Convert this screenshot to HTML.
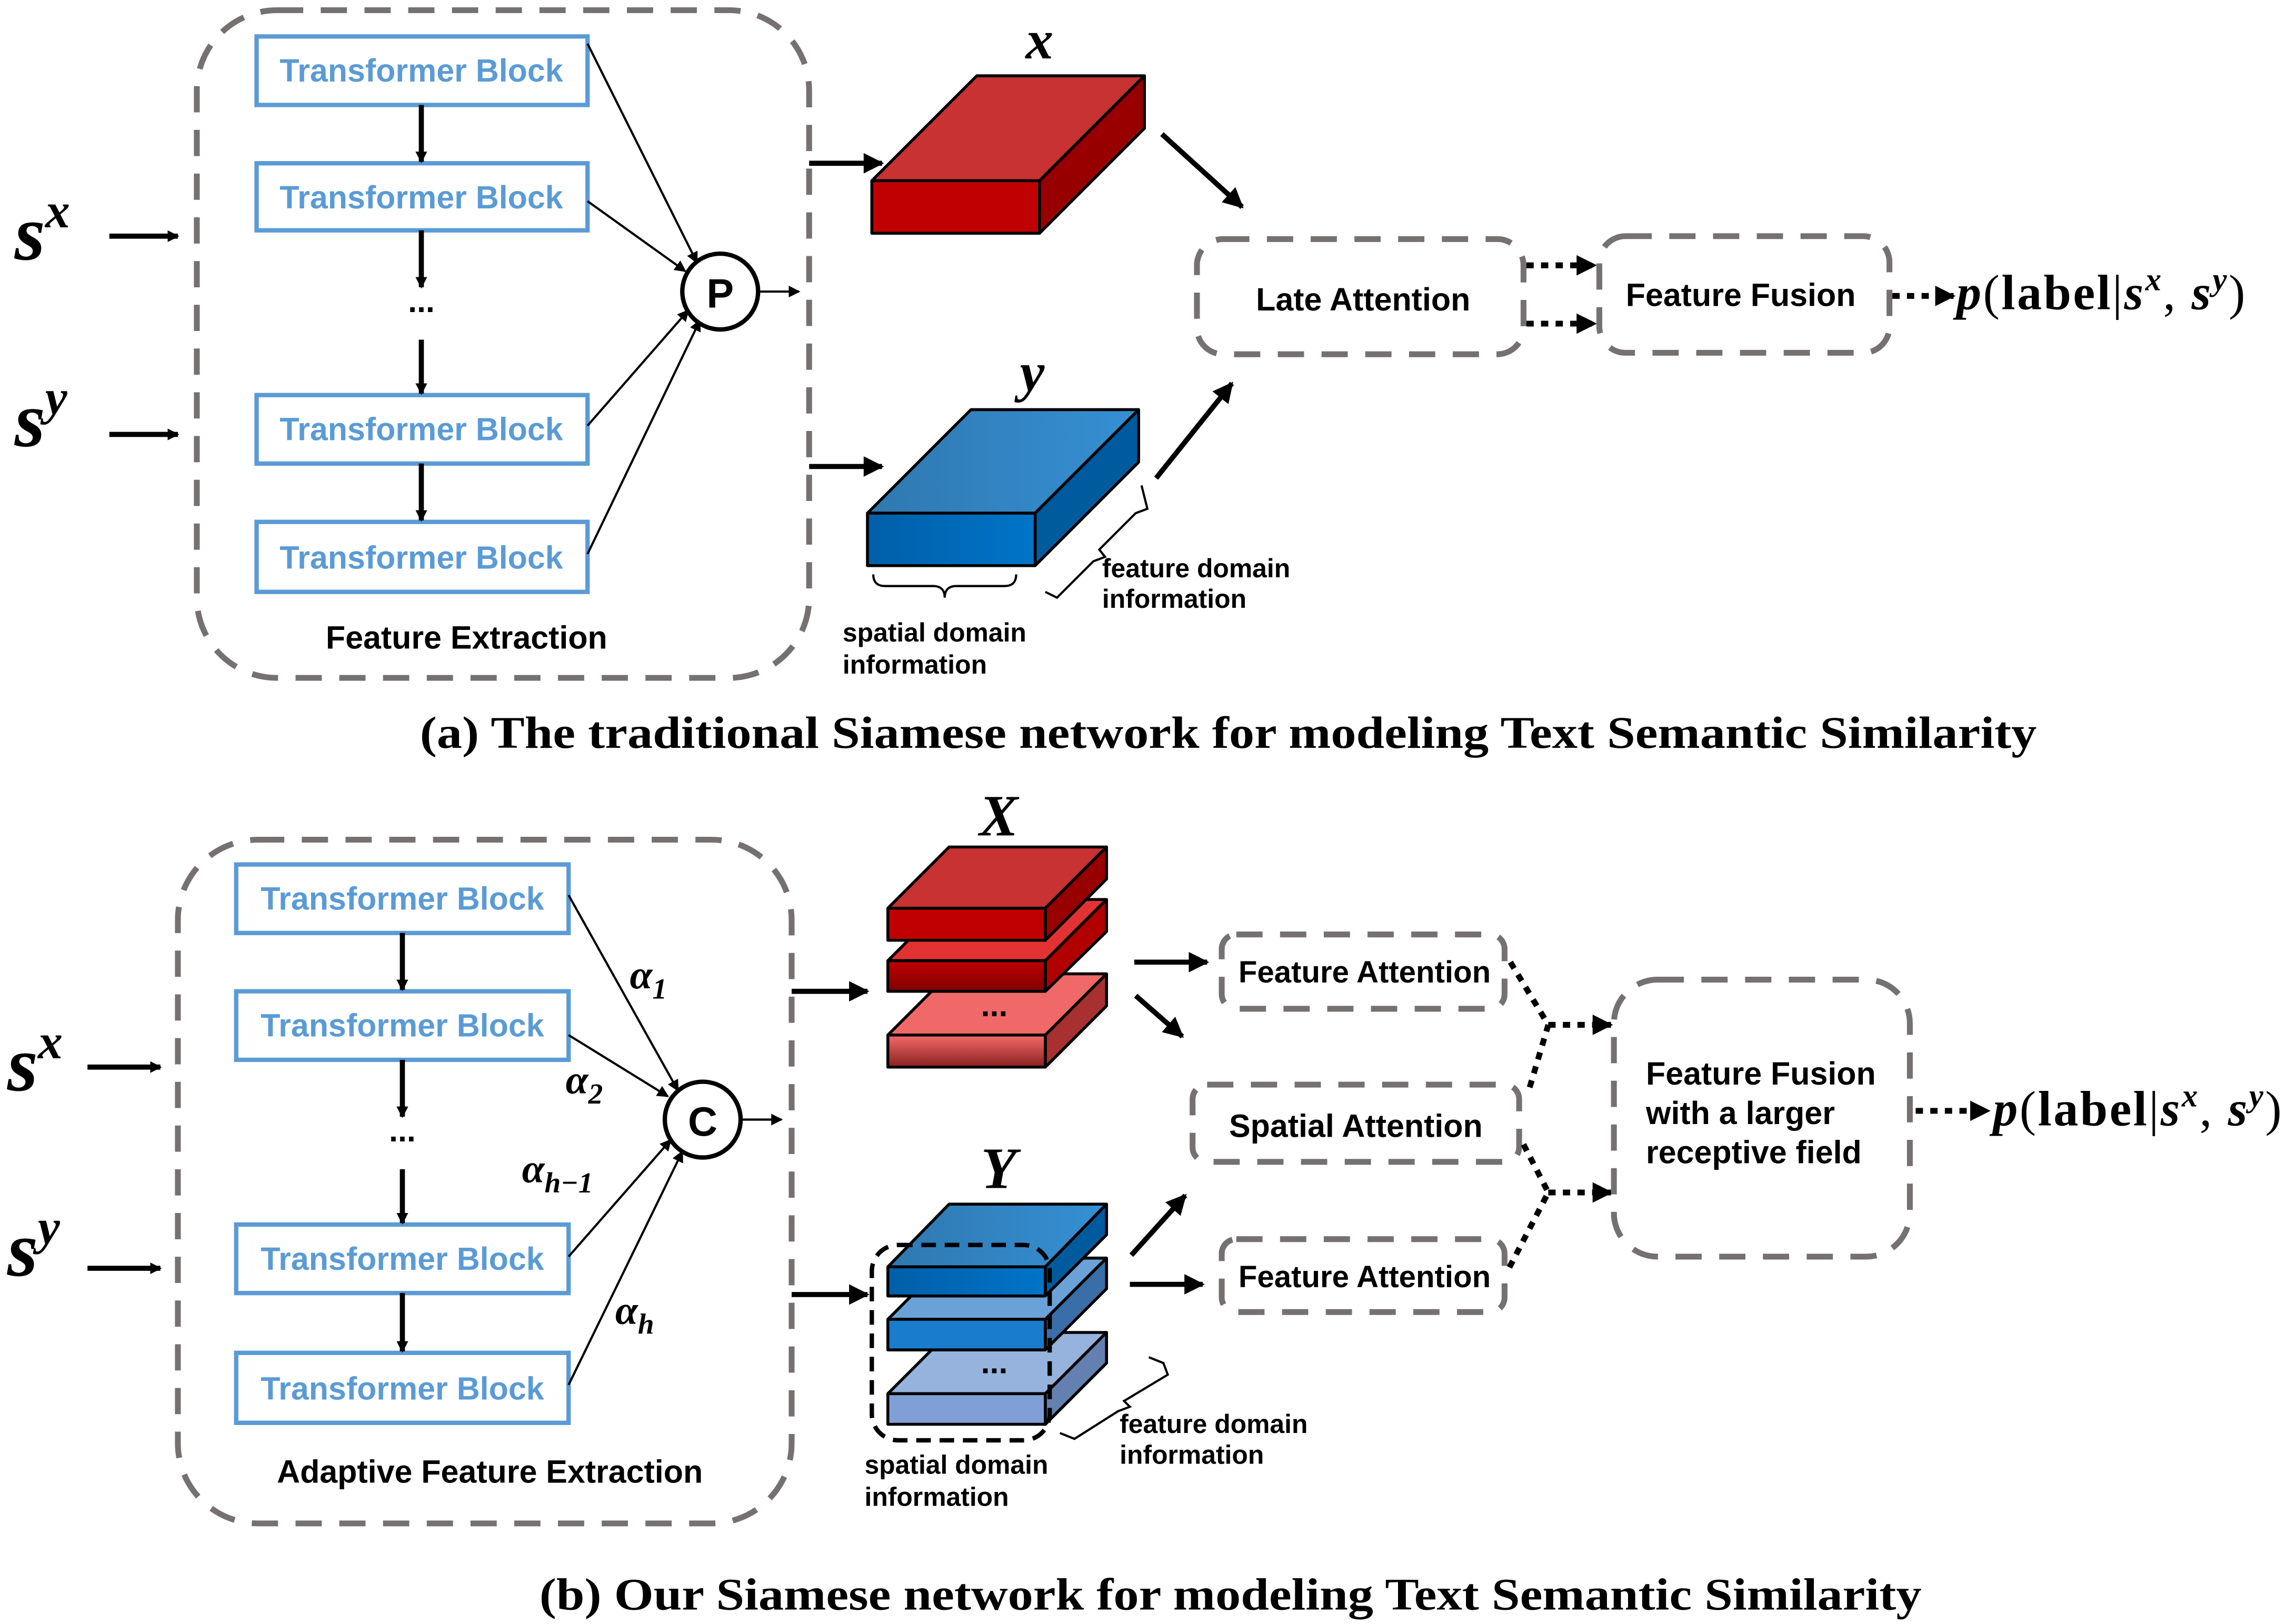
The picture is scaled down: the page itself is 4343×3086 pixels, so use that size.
<!DOCTYPE html>
<html><head><meta charset="utf-8"><style>html,body{margin:0;padding:0;background:#fff}svg{display:block}</style></head><body>
<svg xmlns="http://www.w3.org/2000/svg" width="4343" height="3086" viewBox="0 0 1568 1114" preserveAspectRatio="none">
<defs>
<marker id="ah" markerWidth="8" markerHeight="8" refX="7" refY="4" orient="auto" markerUnits="userSpaceOnUse" viewBox="0 0 8 8"><path d="M0,0 L8,4 L0,8z" fill="#000"/></marker>
<marker id="a2" viewBox="0 0 10 10" refX="9" refY="5" markerWidth="16" markerHeight="14" orient="auto" markerUnits="userSpaceOnUse"><path d="M0,0 L10,5 L0,10z" fill="#000"/></marker>
<linearGradient id="gb" x1="0" y1="0" x2="1" y2="0"><stop offset="0" stop-color="#005fa8"/><stop offset="1" stop-color="#0074c8"/></linearGradient>
<linearGradient id="gbt" x1="0" y1="0" x2="1" y2="0"><stop offset="0" stop-color="#2f78b0"/><stop offset="1" stop-color="#3590d4"/></linearGradient>
<linearGradient id="r3" x1="0" y1="0" x2="0" y2="1"><stop offset="0" stop-color="#f46a6a"/><stop offset="1" stop-color="#8a2020"/></linearGradient>
<linearGradient id="r2" x1="0" y1="0" x2="0" y2="1"><stop offset="0" stop-color="#c00000"/><stop offset="1" stop-color="#800000"/></linearGradient>
</defs>
<style>
.tb{fill:#fff;stroke:#5b9bd5;stroke-width:3}
.tbt{font:bold 22px "Liberation Sans",sans-serif;fill:#5b9bd5;text-anchor:middle}
.dash{fill:none;stroke:#767171;stroke-width:4;stroke-dasharray:18 12}
.lbl{font:bold 22px "Liberation Sans",sans-serif;fill:#000;text-anchor:middle}
.lbs{font:bold 22px "Liberation Sans",sans-serif;fill:#000;text-anchor:start}
.sm{font:bold 18px "Liberation Sans",sans-serif;fill:#000}
.ln{stroke:#000;stroke-width:1.5;fill:none}
.ar{stroke:#000;stroke-width:3.5;fill:none}
.dot{stroke:#000;stroke-width:4;stroke-dasharray:5 5;fill:none}
.big{font:bold italic 54px "Liberation Serif",serif;fill:#000}
.al{font:bold italic 28px "Liberation Serif",serif;fill:#000}
.cap{font:bold 31px "Liberation Serif",serif;fill:#000}
.p{font:34px "Liberation Serif",serif;fill:#000}
.k{stroke:#000;stroke-width:2;stroke-linejoin:round}
</style>

<rect x="135" y="7" width="420" height="458" rx="55" class="dash"/>
<rect x="176" y="25" width="227" height="47" class="tb"/><text x="289" y="56" class="tbt">Transformer Block</text>
<rect x="176" y="112" width="227" height="46" class="tb"/><text x="289" y="143" class="tbt">Transformer Block</text>
<rect x="176" y="271" width="227" height="47" class="tb"/><text x="289" y="302" class="tbt">Transformer Block</text>
<rect x="176" y="358" width="227" height="48" class="tb"/><text x="289" y="390" class="tbt">Transformer Block</text>
<line x1="289" y1="72" x2="289" y2="111" class="ar" stroke-width="3" marker-end="url(#ah)"/>
<line x1="289" y1="158" x2="289" y2="197" class="ar" stroke-width="3" marker-end="url(#ah)"/>
<text x="289" y="214" class="lbl">...</text>
<line x1="289" y1="233" x2="289" y2="270" class="ar" stroke-width="3" marker-end="url(#ah)"/>
<line x1="289" y1="318" x2="289" y2="357" class="ar" stroke-width="3" marker-end="url(#ah)"/>
<line x1="403" y1="30" x2="478" y2="180" class="ln" marker-end="url(#ah)"/>
<line x1="403" y1="138" x2="470" y2="186" class="ln" marker-end="url(#ah)"/>
<line x1="403" y1="292" x2="472" y2="213" class="ln" marker-end="url(#ah)"/>
<line x1="403" y1="380" x2="480" y2="220" class="ln" marker-end="url(#ah)"/>
<circle cx="494" cy="200" r="26" fill="#fff" stroke="#000" stroke-width="3"/>
<text x="494" y="211" class="lbl" style="font-size:28px">P</text>
<line x1="520" y1="200" x2="548" y2="200" class="ln" stroke-width="2" marker-end="url(#ah)"/>
<text x="10" y="178" class="big">s<tspan style="font-size:34px" dy="-22">x</tspan></text>
<line x1="75" y1="162" x2="122" y2="162" class="ar" marker-end="url(#ah)"/>
<text x="10" y="306" class="big">s<tspan style="font-size:34px" dy="-22">y</tspan></text>
<line x1="75" y1="298" x2="122" y2="298" class="ar" marker-end="url(#ah)"/>
<text x="320" y="445" class="lbl">Feature Extraction</text>
<line x1="555" y1="112" x2="605" y2="112" class="ar" marker-end="url(#a2)"/>
<line x1="555" y1="320" x2="605" y2="320" class="ar" marker-end="url(#a2)"/>
<polygon points="598,124 713,124 785,52 670,52" fill="#c83232" class="k"/>
<polygon points="713,124 785,52 785,88 713,160" fill="#980000" class="k"/>
<rect x="598" y="124" width="115" height="36" fill="#c00000" class="k"/>
<text x="713" y="40" class="big" style="font-size:38px" text-anchor="middle">x</text>
<line x1="797" y1="92" x2="852" y2="142" class="ar" marker-end="url(#a2)"/>
<polygon points="595,352 710,352 781,281 666,281" fill="url(#gbt)" class="k"/>
<polygon points="710,352 781,281 781,317 710,388" fill="#005a9e" class="k"/>
<rect x="595" y="352" width="115" height="36" fill="url(#gb)" class="k"/>
<text x="708" y="268" class="big" style="font-size:38px" text-anchor="middle">y</text>
<line x1="793" y1="328" x2="845" y2="263" class="ar" marker-end="url(#a2)"/>
<path d="M599,394 q0,8 8,8 L640,402 q8,0 8,8 q0,-8 8,-8 L689,402 q8,0 8,-8" class="ln"/>
<text x="578" y="440" class="sm">spatial domain</text>
<text x="578" y="462" class="sm">information</text>
<path d="M717,406 l8,4 l25,-25 l8,-3 l-4,-5 l25,-25 l8,-3 l-4,-16" class="ln"/>
<text x="756" y="396" class="sm">feature domain</text>
<text x="756" y="417" class="sm">information</text>
<rect x="821" y="164" width="224" height="79" rx="18" class="dash"/>
<text x="935" y="213" class="lbl">Late Attention</text>
<line x1="1047" y1="182" x2="1094" y2="182" class="dot" marker-end="url(#a2)"/>
<line x1="1047" y1="222" x2="1094" y2="222" class="dot" marker-end="url(#a2)"/>
<rect x="1097" y="162" width="199" height="80" rx="18" class="dash"/>
<text x="1194" y="210" class="lbl">Feature Fusion</text>
<line x1="1298" y1="203" x2="1340" y2="203" class="dot" marker-end="url(#a2)"/>
<text x="1342" y="212" class="p" textLength="198"><tspan font-style="italic" font-weight="bold">p</tspan>(<tspan font-weight="bold">label</tspan>|<tspan font-style="italic" font-weight="bold">s</tspan><tspan font-style="italic" font-weight="bold" font-size="22" dy="-13">x</tspan><tspan dy="13">, </tspan><tspan font-style="italic" font-weight="bold">s</tspan><tspan font-style="italic" font-weight="bold" font-size="22" dy="-13">y</tspan><tspan dy="13">)</tspan></text>
<text x="288" y="513" class="cap" textLength="1109" lengthAdjust="spacingAndGlyphs">(a) The traditional Siamese network for modeling Text Semantic Similarity</text>

<rect x="122" y="576" width="421" height="469" rx="55" class="dash"/>
<rect x="162" y="593" width="228" height="47" class="tb"/><text x="276" y="624" class="tbt">Transformer Block</text>
<rect x="162" y="680" width="228" height="47" class="tb"/><text x="276" y="711" class="tbt">Transformer Block</text>
<rect x="162" y="840" width="228" height="47" class="tb"/><text x="276" y="871" class="tbt">Transformer Block</text>
<rect x="162" y="928" width="228" height="48" class="tb"/><text x="276" y="960" class="tbt">Transformer Block</text>
<line x1="276" y1="640" x2="276" y2="679" class="ar" stroke-width="3" marker-end="url(#ah)"/>
<line x1="276" y1="727" x2="276" y2="766" class="ar" stroke-width="3" marker-end="url(#ah)"/>
<text x="276" y="783" class="lbl">...</text>
<line x1="276" y1="802" x2="276" y2="839" class="ar" stroke-width="3" marker-end="url(#ah)"/>
<line x1="276" y1="887" x2="276" y2="927" class="ar" stroke-width="3" marker-end="url(#ah)"/>
<line x1="390" y1="614" x2="465" y2="748" class="ln" marker-end="url(#ah)"/>
<line x1="390" y1="710" x2="458" y2="752" class="ln" marker-end="url(#ah)"/>
<line x1="390" y1="862" x2="460" y2="782" class="ln" marker-end="url(#ah)"/>
<line x1="390" y1="950" x2="468" y2="790" class="ln" marker-end="url(#ah)"/>
<circle cx="482" cy="768" r="26" fill="#fff" stroke="#000" stroke-width="3"/>
<text x="482" y="779" class="lbl" style="font-size:28px">C</text>
<line x1="508" y1="768" x2="536" y2="768" class="ln" stroke-width="2" marker-end="url(#ah)"/>
<text x="432" y="678" class="al">α<tspan style="font-size:20px" dy="7">1</tspan></text>
<text x="388" y="750" class="al">α<tspan style="font-size:20px" dy="7">2</tspan></text>
<text x="358" y="811" class="al">α<tspan style="font-size:20px" dy="7">h−1</tspan></text>
<text x="422" y="908" class="al">α<tspan style="font-size:20px" dy="7">h</tspan></text>
<text x="5" y="748" class="big">s<tspan style="font-size:34px" dy="-22">x</tspan></text>
<line x1="60" y1="732" x2="110" y2="732" class="ar" marker-end="url(#ah)"/>
<text x="5" y="875" class="big">s<tspan style="font-size:34px" dy="-22">y</tspan></text>
<line x1="60" y1="870" x2="110" y2="870" class="ar" marker-end="url(#ah)"/>
<text x="336" y="1017" class="lbl">Adaptive Feature Extraction</text>
<line x1="543" y1="680" x2="595" y2="680" class="ar" marker-end="url(#a2)"/>
<line x1="543" y1="888" x2="595" y2="888" class="ar" marker-end="url(#a2)"/>
<polygon points="609,710 717,710 759,668 651,668" fill="#f06868" class="k"/>
<polygon points="717,710 759,668 759,690 717,732" fill="#a83030" class="k"/>
<rect x="609" y="710" width="108" height="22" fill="url(#r3)" class="k"/>
<text x="682" y="697" class="lbl">...</text>
<polygon points="609,659 717,659 759,617 651,617" fill="#e33232" class="k"/>
<polygon points="717,659 759,617 759,639 717,680" fill="#b00000" class="k"/>
<rect x="609" y="659" width="108" height="21" fill="url(#r2)" class="k"/>
<polygon points="609,623 717,623 759,581 651,581" fill="#c83232" class="k"/>
<polygon points="717,623 759,581 759,603 717,645" fill="#980000" class="k"/>
<rect x="609" y="623" width="108" height="22" fill="#c00000" class="k"/>
<text x="685" y="573" class="big" style="font-size:40px" text-anchor="middle">X</text>
<polygon points="609,956 717,956 759,914 651,914" fill="#95b3dc" class="k"/>
<polygon points="717,956 759,914 759,935 717,977" fill="#6480b0" class="k"/>
<rect x="609" y="956" width="108" height="21" fill="#7f9fd6" class="k"/>
<text x="682" y="942" class="lbl">...</text>
<polygon points="609,905 717,905 759,863 651,863" fill="#6aa2d8" class="k"/>
<polygon points="717,905 759,863 759,884 717,926" fill="#3a6ea8" class="k"/>
<rect x="609" y="905" width="108" height="21" fill="#1a7ccc" class="k"/>
<polygon points="609,869 717,869 759,826 651,826" fill="url(#gbt)" class="k" stroke-width="3"/>
<polygon points="717,869 759,826 759,847 717,889" fill="#005a9e" class="k" stroke-width="3"/>
<rect x="609" y="869" width="108" height="20" fill="url(#gb)" class="k" stroke-width="3"/>
<text x="685" y="815" class="big" style="font-size:40px" text-anchor="middle">Y</text>
<rect x="598" y="854" width="122" height="134" rx="18" fill="none" stroke="#000" stroke-width="3" stroke-dasharray="10 6"/>
<path d="M727,983 l10,4 l30,-19 l8,-3 l-4,-4 l30,-18 l-3,-8 l-10,-4" class="ln"/>
<text x="593" y="1011" class="sm">spatial domain</text>
<text x="593" y="1033" class="sm">information</text>
<text x="768" y="983" class="sm">feature domain</text>
<text x="768" y="1004" class="sm">information</text>
<line x1="778" y1="660" x2="828" y2="660" class="ar" marker-end="url(#a2)"/>
<line x1="779" y1="683" x2="811" y2="711" class="ar" marker-end="url(#a2)"/>
<line x1="776" y1="861" x2="813" y2="820" class="ar" marker-end="url(#a2)"/>
<line x1="775" y1="881" x2="825" y2="881" class="ar" marker-end="url(#a2)"/>
<rect x="838" y="641" width="194" height="51" rx="10" class="dash"/>
<text x="936" y="674" class="lbl" style="font-size:21px">Feature Attention</text>
<rect x="818" y="744" width="224" height="53" rx="10" class="dash"/>
<text x="930" y="780" class="lbl">Spatial Attention</text>
<rect x="838" y="850" width="194" height="50" rx="10" class="dash"/>
<text x="936" y="883" class="lbl" style="font-size:21px">Feature Attention</text>
<polyline points="1036,660 1062,703 1048,750" class="dot"/>
<line x1="1062" y1="703" x2="1105" y2="703" class="dot" marker-end="url(#a2)"/>
<polyline points="1045,785 1062,818 1035,870" class="dot"/>
<line x1="1062" y1="818" x2="1105" y2="818" class="dot" marker-end="url(#a2)"/>
<rect x="1107" y="672" width="203" height="190" rx="30" class="dash"/>
<text x="1129" y="744" class="lbs">Feature Fusion</text>
<text x="1129" y="771" class="lbs">with a larger</text>
<text x="1129" y="798" class="lbs">receptive field</text>
<line x1="1314" y1="762" x2="1364" y2="762" class="dot" marker-end="url(#a2)"/>
<text x="1367" y="772" class="p" textLength="198"><tspan font-style="italic" font-weight="bold">p</tspan>(<tspan font-weight="bold">label</tspan>|<tspan font-style="italic" font-weight="bold">s</tspan><tspan font-style="italic" font-weight="bold" font-size="22" dy="-13">x</tspan><tspan dy="13">, </tspan><tspan font-style="italic" font-weight="bold">s</tspan><tspan font-style="italic" font-weight="bold" font-size="22" dy="-13">y</tspan><tspan dy="13">)</tspan></text>
<text x="370" y="1104" class="cap" textLength="948" lengthAdjust="spacingAndGlyphs">(b) Our Siamese network for modeling Text Semantic Similarity</text>
</svg>
</body></html>
